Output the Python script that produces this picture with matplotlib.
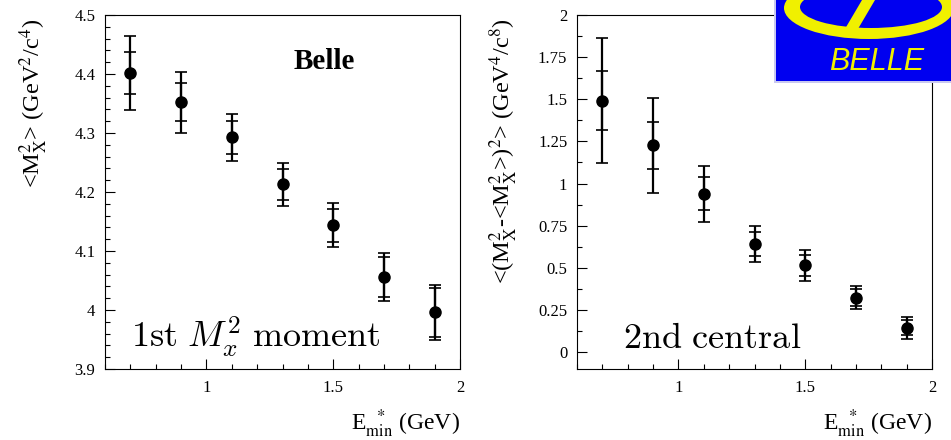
import matplotlib
matplotlib.use("Agg")
import matplotlib.pyplot as plt
from matplotlib.patches import Ellipse, Polygon, Rectangle
from matplotlib.ticker import MultipleLocator, FormatStrFormatter

plt.rcParams['font.family'] = ['Liberation Serif', 'DejaVu Serif']
plt.rcParams['mathtext.fontset'] = 'stix'

# E_min* cut values and the measured moments (stat and total errors)
emin = [0.7, 0.9, 1.1, 1.3, 1.5, 1.7, 1.9]
m1 = [4.402, 4.352, 4.293, 4.213, 4.144, 4.056, 3.996]
m1_stat = [0.036, 0.032, 0.028, 0.026, 0.028, 0.034, 0.042]
m1_tot = [0.063, 0.052, 0.040, 0.036, 0.037, 0.040, 0.046]
m2 = [1.492, 1.226, 0.939, 0.640, 0.514, 0.324, 0.144]
m2_stat = [0.173, 0.137, 0.098, 0.072, 0.063, 0.053, 0.045]
m2_tot = [0.370, 0.279, 0.168, 0.106, 0.090, 0.070, 0.066]

W, H = 951, 440
fig = plt.figure(figsize=(W / 100, H / 100), dpi=100)


def px_axes(x0, y0, x1, y1):
    return fig.add_axes([x0 / W, 1 - y1 / H, (x1 - x0) / W, (y1 - y0) / H])


def style(ax, ymaj, ymin):
    ax.set_xlim(0.6, 2.0)
    ax.xaxis.set_major_locator(MultipleLocator(0.5))
    ax.xaxis.set_minor_locator(MultipleLocator(0.1))
    ax.yaxis.set_major_locator(MultipleLocator(ymaj))
    ax.yaxis.set_minor_locator(MultipleLocator(ymin))
    ax.xaxis.set_major_formatter(FormatStrFormatter('%g'))
    ax.yaxis.set_major_formatter(FormatStrFormatter('%g'))
    ax.tick_params(which='both', direction='in', top=False, right=False,
                   width=0.8, labelsize=12)
    ax.tick_params(which='major', length=7)
    ax.tick_params(which='minor', length=3.8)
    ax.tick_params(axis='x', pad=8)
    ax.tick_params(axis='y', pad=7)
    for sp in ax.spines.values():
        sp.set_linewidth(0.8)
    ax.set_xlabel(r'E$_{\rm min}^{\ \ *}$ (GeV)', fontsize=17, loc='right')
    ax.xaxis.set_label_coords(1.0, -0.11)


def points(ax, y, stat, tot):
    ax.errorbar(emin, y, yerr=tot, fmt='none', ecolor='black', elinewidth=1.6,
                capsize=4, capthick=1.2)
    ax.errorbar(emin, y, yerr=stat, fmt='o', color='black', ms=8,
                elinewidth=1.6, capsize=4, capthick=1.2)


# first moment
ax1 = px_axes(105, 15, 460, 369)
points(ax1, m1, m1_stat, m1_tot)
ax1.set_ylim(3.9, 4.5)
style(ax1, 0.1, 0.02)
ax1.set_ylabel(r'<M$_{\rm X}^{2}$> (GeV$^{2}$/c$^{4}$)', fontsize=17.5, loc='top')
ax1.yaxis.set_label_coords(-0.155, 0.99)
ax1.text(1.343, 4.408, 'Belle', fontsize=21, fontweight='bold')
ax1.text(0.703, 3.936, r'$\mathrm{1st}\ M_x^2\ \mathrm{moment}$', fontsize=26,
         math_fontfamily='cm')

# second central moment
ax2 = px_axes(577, 15, 932, 369)
points(ax2, m2, m2_stat, m2_tot)
ax2.set_ylim(-0.1, 2.0)
style(ax2, 0.25, 0.125)
ax2.set_ylabel(r'<(M$_{\rm X}^{2}$-<M$_{\rm X}^{2}$>)$^{2}$> (GeV$^{4}$/c$^{8}$)',
               fontsize=17.5, loc='top')
ax2.yaxis.set_label_coords(-0.16, 0.99)
ax2.text(0.782, 0.0246, r'$\mathrm{2nd\ central}$', fontsize=26,
         math_fontfamily='cm')

# experiment logo in the top right corner
lg = px_axes(774, 0, 951, 83)
lg.set_xlim(0, 177)
lg.set_ylim(83, 0)
lg.axis('off')
lg.add_patch(Rectangle((0, 0), 177, 83, facecolor='#c8c8f0', edgecolor='none'))
lg.add_patch(Rectangle((1.5, 0), 177, 81.5, facecolor='#0000f0', edgecolor='none'))
yellow = '#f0f000'
lg.add_patch(Ellipse((95, 8), 170, 62, facecolor=yellow, edgecolor='none'))
lg.add_patch(Ellipse((97, 7), 142, 42, facecolor='#0000f0', edgecolor='none'))
lg.add_patch(Polygon([(68, 34), (81, 34), (101, 0), (88, 0)], facecolor=yellow,
                     edgecolor='none'))
lg.text(103, 62, 'BELLE', color=yellow, fontsize=22, style='italic',
        family='Liberation Sans', ha='center', va='center')

fig.savefig('out.png', dpi=100)
